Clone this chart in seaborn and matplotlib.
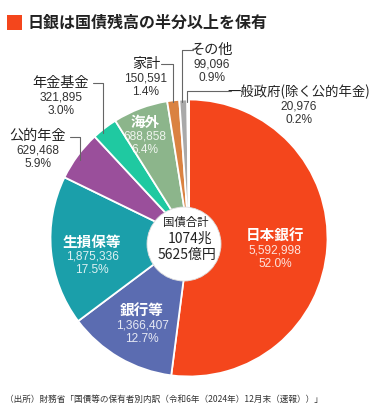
import matplotlib
matplotlib.use("Agg")
import matplotlib.pyplot as plt
from matplotlib.patches import Circle, Rectangle
import seaborn as sns

# Holders of JGBs (100 million yen), Dec 2024
holders = ["日本銀行", "銀行等", "生損保等", "公的年金", "年金基金", "海外", "家計", "その他", "一般政府(除く公的年金)"]
amounts = [5592998, 1366407, 1875336, 629468, 321895, 688858, 150591, 99096, 20976]
shares = [52.0, 12.7, 17.5, 5.9, 3.0, 6.4, 1.4, 0.9, 0.2]
colors = ["#F4461C", "#5B6CB1", "#1B9FAA", "#9A4F9B", "#1FC9A1", "#8CB58B", "#DA8241", "#A9A9A9", "#D0D0D0"]

title = "日銀は国債残高の半分以上を保有"
center_lines = ["国債合計", "1074兆", "5625億円"]
source = "（出所）財務省「国債等の保有者別内訳（令和6年（2024年）12月末（速報））」"

sns.set_theme(style="white")
plt.rcParams["font.family"] = ["Noto Sans CJK JP", "DejaVu Sans"]
num_font = ["Liberation Sans", "DejaVu Sans"]

W, H = 375, 415
fig = plt.figure(figsize=(W / 100, H / 100), dpi=100)
ax = fig.add_axes([0, 0, 1, 1])

# y axis is flipped (pixel coords), so start at -90 and go counterclock=True -> visually clockwise from top
ax.pie(amounts, colors=colors, startangle=-90, counterclock=True,
       center=(189, 238), radius=138.5,
       wedgeprops=dict(edgecolor="white", linewidth=1.3))
ax.set_xlim(0, W)
ax.set_ylim(H, 0)
ax.set_aspect("equal")
ax.axis("off")

ax.add_patch(Circle((184, 244), 37, facecolor="white", edgecolor="#dddddd", lw=0.6, zorder=3))
ax.text(186, 222, center_lines[0], ha="center", va="center", fontsize=8.2, color="#222", zorder=4)
ax.text(190, 239, center_lines[1], ha="center", va="center", fontsize=10, color="#222", zorder=4)
ax.text(187, 255, center_lines[2], ha="center", va="center", fontsize=10, color="#222", zorder=4)

# label anchor (name position) per slice, and whether text is inside the wedge
label_pos = {
    0: (275, 236, True), 1: (142, 311, True), 2: (92, 242, True), 5: (145, 122, True),
    4: (61, 83, False), 3: (38, 136, False), 6: (146, 64, False), 7: (212, 50, False), 8: (299, 92, False),
}
for i, (x, y, inside) in label_pos.items():
    if inside:
        ax.text(x, y, holders[i], ha="center", va="center", fontsize=10.5, fontweight="bold", color="white")
        c, a = "white", 0.85
    else:
        fs = 9.6 if i == 8 else 10.2
        ax.text(x, y, holders[i], ha="center", va="center", fontsize=fs, color="#222")
        c, a = "#333", 1.0
    ax.text(x, y + 14.5, f"{amounts[i]:,}", ha="center", va="center", fontsize=8.6,
            family=num_font, color=c, alpha=a)
    ax.text(x, y + 28, f"{shares[i]:.1f}%", ha="center", va="center", fontsize=8.6,
            family=num_font, color=c, alpha=a)

# leader lines
leaders = [
    [(93, 83), (103, 83), (103, 133)],
    [(70, 137), (80, 137), (80, 160)],
    [(161, 64), (173, 64), (173, 102)],
    [(193, 50), (182, 50), (182, 102)],
    [(231, 91), (187, 91), (187, 102)],
]
for pts in leaders:
    xs, ys = zip(*pts)
    ax.plot(xs, ys, color="#666", lw=0.8, zorder=5)

# title with colour chip
ax.add_patch(Rectangle((7, 15), 15, 15, facecolor=colors[0], edgecolor="none"))
ax.text(28, 22.5, title, ha="left", va="center", fontsize=11.5, fontweight="bold", color="#222")

ax.text(5, 399, source, ha="left", va="center", fontsize=6.2, color="#333")

fig.savefig("out.png", dpi=100)
